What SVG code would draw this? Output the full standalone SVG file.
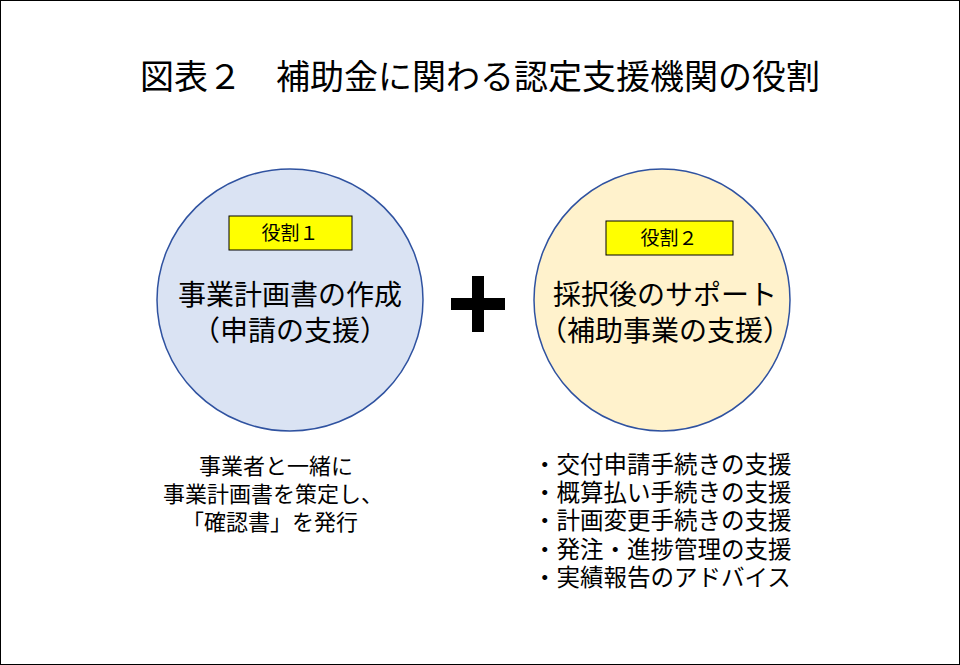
<svg xmlns="http://www.w3.org/2000/svg" width="960" height="665" viewBox="0 0 960 665">
<style>
text{font-family:"Noto Sans CJK JP","Noto Sans",sans-serif;fill:#000}
.t{font-size:34px}
.m{font-size:28px}
.s{font-size:22px}
.r{font-size:23.5px}
.l{font-size:19px}
.lab{fill:#ffff00;stroke:#000;stroke-width:1}
</style>
<rect x="0.5" y="0.5" width="959" height="664" fill="#fff" stroke="#000"/>
<text class="t" x="480" y="89" text-anchor="middle">図表２　補助金に関わる認定支援機関の役割</text>
<g id="node1">
<ellipse cx="290" cy="300" rx="133" ry="131" fill="#dae3f3" stroke="#2f52a0" stroke-width="1.5"/>
<rect class="lab" x="229" y="216" width="123" height="34"/>
<text class="l" x="290" y="240" text-anchor="middle">役割１</text>
<text class="m" x="290" y="305" text-anchor="middle">事業計画書の作成</text>
<text class="m" x="290" y="341" text-anchor="middle">（申請の支援）</text>
</g>
<g id="plus">
<rect x="472" y="276" width="12" height="56" fill="#000"/>
<rect x="451" y="298" width="54" height="12" fill="#000"/>
</g>
<g id="node2">
<ellipse cx="662" cy="300" rx="128" ry="131" fill="#fff2cc" stroke="#2f52a0" stroke-width="1.5"/>
<rect class="lab" x="606" y="221" width="127" height="34"/>
<text class="l" x="669" y="245" text-anchor="middle">役割２</text>
<text class="m" x="665" y="305" text-anchor="middle">採択後のサポート</text>
<text class="m" x="665" y="341" text-anchor="middle">（補助事業の支援）</text>
</g>
<g id="desc1">
<text class="s" x="276" y="474" text-anchor="middle">事業者と一緒に</text>
<text class="s" x="273" y="502" text-anchor="middle">事業計画書を策定し、</text>
<text class="s" x="270" y="530" text-anchor="middle">「確認書」を発行</text>
</g>
<g id="desc2">
<text class="r" x="533" y="473">・交付申請手続きの支援</text>
<text class="r" x="533" y="501">・概算払い手続きの支援</text>
<text class="r" x="533" y="529">・計画変更手続きの支援</text>
<text class="r" x="533" y="558">・発注・進捗管理の支援</text>
<text class="r" x="533" y="586">・実績報告のアドバイス</text>
</g>
</svg>
